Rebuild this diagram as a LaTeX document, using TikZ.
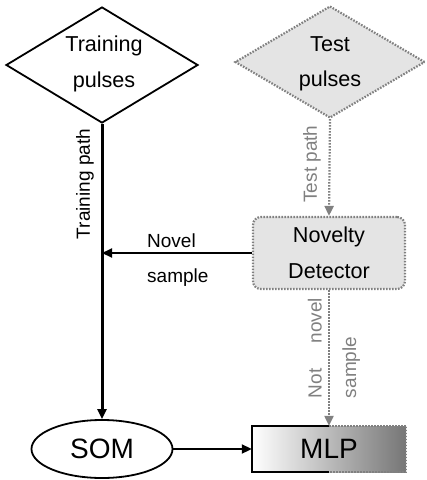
\documentclass[tikz,border=0pt]{standalone}
\usepackage{fontspec}
\setmainfont{Liberation Sans}
\usetikzlibrary{shapes.geometric,arrows.meta}
\definecolor{dgray}{HTML}{808080}
\definecolor{lgray}{HTML}{E4E4E4}
\definecolor{mgray}{HTML}{767676}
\begin{document}
\begin{tikzpicture}[x=1pt,y=-1pt,
  big/.style={font=\fontsize{21.6}{35.5}\selectfont, align=center},
  huge/.style={font=\fontsize{28}{34}\selectfont},
  lab/.style={font=\fontsize{19}{34.5}\selectfont},
  dot/.style={draw=dgray, line width=2.2pt, dash pattern=on 1.6pt off 1.4pt},
  blk/.style={draw=black, line width=1.8pt},
  tip/.style={-{Triangle[length=10pt,width=9pt]}},
]
\path[use as bounding box] (0,0) rectangle (427,480);
% top diamonds
\node[diamond, blk, minimum width=192, minimum height=116, inner sep=0] (train) at (102,65) {};
\node[big] (traint) at (104,64) {Training\\pulses};
\node[diamond, dot, fill=lgray, minimum width=190, minimum height=112, inner sep=0] (test) at (330,62) {};
\node[big] (testt) at (330,64) {Test\\pulses};
% novelty detector
\node[rectangle, rounded corners=8pt, dot, fill=lgray, minimum width=152, minimum height=72, big] (nd) at (329,253) {Novelty\\Detector};
% SOM and MLP
\node[ellipse, blk, minimum width=141, minimum height=58, inner sep=0, huge] (som) at (102,449) {SOM};
\node[rectangle, left color=white, middle color=gray!35, right color=mgray, minimum width=154, minimum height=46, huge] (mlp) at (329,449) {MLP};
\draw[blk] (mlp.north) -- (mlp.north west) -- (mlp.south west) -- (mlp.south);
\draw[dot] (mlp.north) -- (mlp.north east) -- (mlp.south east) -- (mlp.south);
% connectors
\draw[black, line width=3pt, tip] (train.south) -- (som.north);
\coordinate (join) at (nd.west -| train.south);
\draw[black, line width=2pt, tip] (nd.west) -- (join);
\draw[dot, tip] (test.south) -- (nd.north);
\draw[dot, tip] (nd.south) -- (mlp.north);
\draw[black, line width=2pt, tip] (som.east) -- (mlp.west);
% labels
\node[lab, rotate=90] (tpl) at (85,184) {Training path};
\node[lab, rotate=90, text=dgray] (tepl) at (312,164) {Test path};
\node[lab, align=left, anchor=west, inner sep=0] (nsl) at (147,260) {Novel\\sample};
\node[lab, align=left, rotate=90, text=dgray] (nnl) at (334,348) {Not\hspace{25pt}novel\\sample};
\end{tikzpicture}
\end{document}
